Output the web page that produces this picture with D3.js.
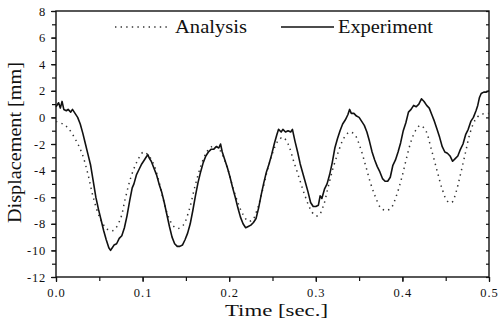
<!DOCTYPE html>
<html>
<head>
<meta charset="utf-8">
<script src="https://cdn.jsdelivr.net/npm/d3@7"></script>
<style>
  body { margin: 0; background: #fff; }
  svg text { font-family: "Liberation Serif", "Times New Roman", "DejaVu Serif", serif !important; fill: #111; }
</style>
</head>
<body>
<div id="chart"></div>
<script>
// experiment (solid, measured) - time [sec], displacement [mm]
const expTime = [0.000,0.003,0.005,0.007,0.009,0.012,0.014,0.017,0.019,0.022,0.025,0.028,0.031,0.034,0.037,0.040,0.043,0.046,0.049,0.052,0.055,0.058,0.061,0.063,0.065,0.067,0.070,0.073,0.076,0.079,0.082,0.085,0.088,0.090,0.093,0.096,0.099,0.102,0.104,0.106,0.108,0.110,0.113,0.116,0.119,0.122,0.125,0.128,0.131,0.134,0.137,0.140,0.143,0.146,0.149,0.152,0.155,0.158,0.161,0.164,0.167,0.170,0.173,0.176,0.179,0.182,0.185,0.188,0.190,0.192,0.195,0.198,0.201,0.204,0.207,0.210,0.213,0.216,0.219,0.222,0.225,0.228,0.231,0.234,0.237,0.240,0.243,0.246,0.249,0.252,0.255,0.257,0.260,0.262,0.265,0.268,0.271,0.273,0.276,0.279,0.282,0.285,0.288,0.291,0.294,0.297,0.300,0.303,0.305,0.307,0.310,0.313,0.316,0.319,0.322,0.325,0.328,0.331,0.334,0.337,0.339,0.341,0.344,0.347,0.350,0.353,0.356,0.359,0.362,0.365,0.368,0.371,0.374,0.377,0.380,0.383,0.386,0.389,0.392,0.395,0.398,0.401,0.404,0.407,0.410,0.413,0.416,0.419,0.422,0.425,0.428,0.431,0.434,0.437,0.440,0.443,0.446,0.449,0.452,0.455,0.458,0.461,0.464,0.467,0.470,0.473,0.476,0.479,0.482,0.485,0.487,0.489,0.491,0.494,0.497,0.500]
const expDisp = [0.8,1.1,0.7,1.2,0.6,0.5,0.6,0.4,0.6,0.3,0.0,-0.5,-1.2,-2.0,-2.8,-3.6,-4.8,-6.0,-6.9,-7.7,-8.5,-9.2,-9.8,-10.0,-9.8,-9.6,-9.5,-9.1,-8.9,-8.3,-7.4,-6.3,-5.3,-5.0,-4.3,-3.9,-3.5,-3.2,-3.0,-2.8,-3.1,-3.3,-3.8,-4.3,-5.0,-5.6,-6.4,-7.3,-8.2,-9.0,-9.5,-9.7,-9.7,-9.6,-9.2,-8.7,-8.0,-7.0,-5.9,-4.9,-4.1,-3.4,-2.9,-2.6,-2.4,-2.4,-2.2,-2.3,-2.0,-2.6,-3.2,-3.8,-4.5,-5.3,-6.0,-6.8,-7.5,-8.0,-8.3,-8.2,-8.1,-7.9,-7.6,-6.8,-5.8,-4.9,-4.1,-3.5,-2.8,-2.0,-1.3,-0.9,-1.1,-0.9,-1.1,-1.0,-1.1,-0.9,-1.8,-2.6,-3.5,-4.2,-4.9,-5.6,-6.4,-6.7,-6.7,-6.6,-5.9,-6.1,-5.4,-5.0,-4.3,-3.4,-2.3,-1.6,-1.0,-0.5,-0.2,0.2,0.6,0.3,0.3,0.1,0.0,-0.3,-0.6,-1.1,-1.8,-2.6,-3.2,-3.7,-4.1,-4.6,-4.8,-4.8,-4.5,-3.6,-3.2,-2.6,-1.9,-1.0,-0.4,0.4,0.6,0.9,0.8,1.0,1.4,1.2,0.9,0.7,0.2,-0.3,-0.9,-1.5,-2.2,-2.6,-2.7,-2.9,-3.3,-3.1,-2.9,-2.4,-2.0,-1.3,-0.9,-0.3,0.0,0.5,0.9,1.5,1.8,1.9,1.9,2.0]

// analysis (dotted)
const anaTime = [0.000,0.008,0.014,0.022,0.030,0.037,0.043,0.051,0.059,0.066,0.074,0.080,0.086,0.093,0.101,0.106,0.112,0.118,0.124,0.130,0.136,0.141,0.147,0.154,0.160,0.167,0.174,0.180,0.186,0.192,0.198,0.204,0.210,0.216,0.222,0.227,0.232,0.238,0.244,0.250,0.256,0.262,0.268,0.274,0.281,0.287,0.293,0.298,0.303,0.309,0.314,0.320,0.326,0.332,0.339,0.345,0.351,0.357,0.363,0.369,0.375,0.381,0.387,0.393,0.399,0.405,0.411,0.417,0.421,0.427,0.433,0.440,0.446,0.452,0.457,0.462,0.467,0.473,0.478,0.484,0.490,0.500]
const anaDisp = [-0.3,-0.5,-0.8,-1.6,-2.7,-4.3,-6.0,-7.6,-8.4,-8.5,-7.7,-6.1,-4.6,-3.4,-2.6,-2.8,-3.4,-4.6,-6.2,-7.5,-8.2,-8.35,-8.1,-6.9,-5.3,-3.7,-2.6,-2.2,-2.2,-2.8,-3.8,-5.2,-6.4,-7.3,-7.8,-7.7,-7.0,-5.6,-4.0,-2.7,-1.8,-1.5,-2.0,-3.2,-4.6,-5.8,-6.8,-7.3,-7.4,-6.6,-5.3,-3.8,-2.6,-1.6,-1.1,-1.3,-2.2,-3.5,-4.9,-6.0,-6.8,-7.0,-6.8,-5.9,-4.6,-3.0,-1.6,-0.8,-0.6,-1.0,-2.3,-4.0,-5.4,-6.3,-6.4,-5.6,-4.3,-2.6,-1.2,-0.2,0.2,0.3]

const xTicks = [0, 0.1, 0.2, 0.3, 0.4, 0.5]
const xTickLabels = ["0.0", "0.1", "0.2", "0.3", "0.4", "0.5"]
const yTicks = [-12, -10, -8, -6, -4, -2, 0, 2, 4, 6, 8]
const legendLabels = ["Analysis", "Experiment"]

const serif = '"Liberation Serif", "Times New Roman", "DejaVu Serif", serif'

const W = 501, H = 322
const margin = {top: 11, right: 12, bottom: 45, left: 56},
    width = W - margin.left - margin.right,
    height = H - margin.top - margin.bottom;

const svg = d3.select("#chart")
  .append("svg")
    .attr("width", W)
    .attr("height", H)
  .append("g")
    .attr("transform", `translate(${margin.left},${margin.top})`);

const x = d3.scaleLinear().domain([0, 0.5]).range([0, width]);
const y = d3.scaleLinear().domain([-12, 8]).range([height, 0]);

// minor ticks
svg.append("g")
  .attr("transform", `translate(0,${height})`)
  .call(d3.axisBottom(x).tickValues(d3.range(0, 0.51, 0.05)).tickSize(4).tickFormat(""))
  .call(g => g.select(".domain").remove());
svg.append("g")
  .call(d3.axisLeft(y).tickValues(d3.range(-12, 9, 1)).tickSize(4).tickFormat(""))
  .call(g => g.select(".domain").remove());
svg.append("g")
  .call(d3.axisLeft(y).tickValues(d3.range(-12, 9, 1)).tickSize(3).tickFormat(""))
  .attr("transform", `translate(${width},0)`)
  .call(g => g.selectAll(".tick line").attr("x2", -3))
  .call(g => g.select(".domain").remove());

// labelled axes
svg.append("g")
  .attr("transform", `translate(0,${height})`)
  .attr("font-family", serif)
  .call(d3.axisBottom(x).tickValues(xTicks).tickSize(5).tickPadding(6)
        .tickFormat((d, i) => xTickLabels[i]))
  .call(g => g.attr("font-family", serif))
  .call(g => g.select(".domain").remove())
  .call(g => g.selectAll(".tick text").style("font-family", serif).style("font-size", "12.5px").attr("letter-spacing", "1px"));

svg.append("g")
  .call(d3.axisLeft(y).tickValues(yTicks).tickSize(5).tickPadding(5)
        .tickFormat(d => String(d).replace("\u2212", "-")))
  .call(g => g.attr("font-family", serif))
  .call(g => g.select(".domain").remove())
  .call(g => g.selectAll(".tick text").style("font-family", serif).style("font-size", "12.5px").attr("letter-spacing", "0.8px"));

svg.selectAll(".tick line").attr("stroke", "#111").attr("stroke-width", 1.2);

// frame
svg.append("rect")
  .attr("width", width).attr("height", height)
  .attr("fill", "none").attr("stroke", "#111").attr("stroke-width", 1.4);

// lines
const anaData = anaTime.map((t, i) => ({t: t, v: anaDisp[i]}))
const expData = expTime.map((t, i) => ({t: t, v: expDisp[i]}))

svg.append("path")
  .datum(anaData)
  .attr("fill", "none")
  .attr("stroke", "#333")
  .attr("stroke-width", 1.5)
  .attr("stroke-dasharray", "1.4 4.2")
  .attr("d", d3.line().curve(d3.curveCatmullRom.alpha(0.5)).x(d => x(d.t)).y(d => y(d.v)));

svg.append("path")
  .datum(expData)
  .attr("fill", "none")
  .attr("stroke", "#111")
  .attr("stroke-width", 1.6)
  .attr("stroke-linejoin", "round")
  .attr("d", d3.line().x(d => x(d.t)).y(d => y(d.v)));

// legend
const root = d3.select("svg");
root.append("line")
  .attr("x1", 115).attr("x2", 169).attr("y1", 27).attr("y2", 27)
  .attr("stroke", "#333").attr("stroke-width", 1.5).attr("stroke-dasharray", "1.4 4.2");
root.append("text")
  .attr("x", 175).attr("y", 33)
  .attr("textLength", 72).attr("lengthAdjust", "spacingAndGlyphs")
  .style("font-family", serif)
  .style("font-size", "18.5px")
  .text(legendLabels[0]);
root.append("line")
  .attr("x1", 281).attr("x2", 334).attr("y1", 27).attr("y2", 27)
  .attr("stroke", "#111").attr("stroke-width", 1.4);
root.append("text")
  .attr("x", 338).attr("y", 33)
  .attr("textLength", 95).attr("lengthAdjust", "spacingAndGlyphs")
  .style("font-family", serif)
  .style("font-size", "18.5px")
  .text(legendLabels[1]);

// axis titles
root.append("text")
  .attr("x", 225).attr("y", 316)
  .attr("textLength", 103).attr("lengthAdjust", "spacingAndGlyphs")
  .style("font-family", serif)
  .style("font-size", "17.5px")
  .text("Time [sec.]");

root.append("text")
  .attr("transform", "translate(21,223) rotate(-90)")
  .attr("textLength", 161).attr("lengthAdjust", "spacingAndGlyphs")
  .style("font-family", serif)
  .style("font-size", "19px")
  .text("Displacement [mm]");
</script>
</body>
</html>
